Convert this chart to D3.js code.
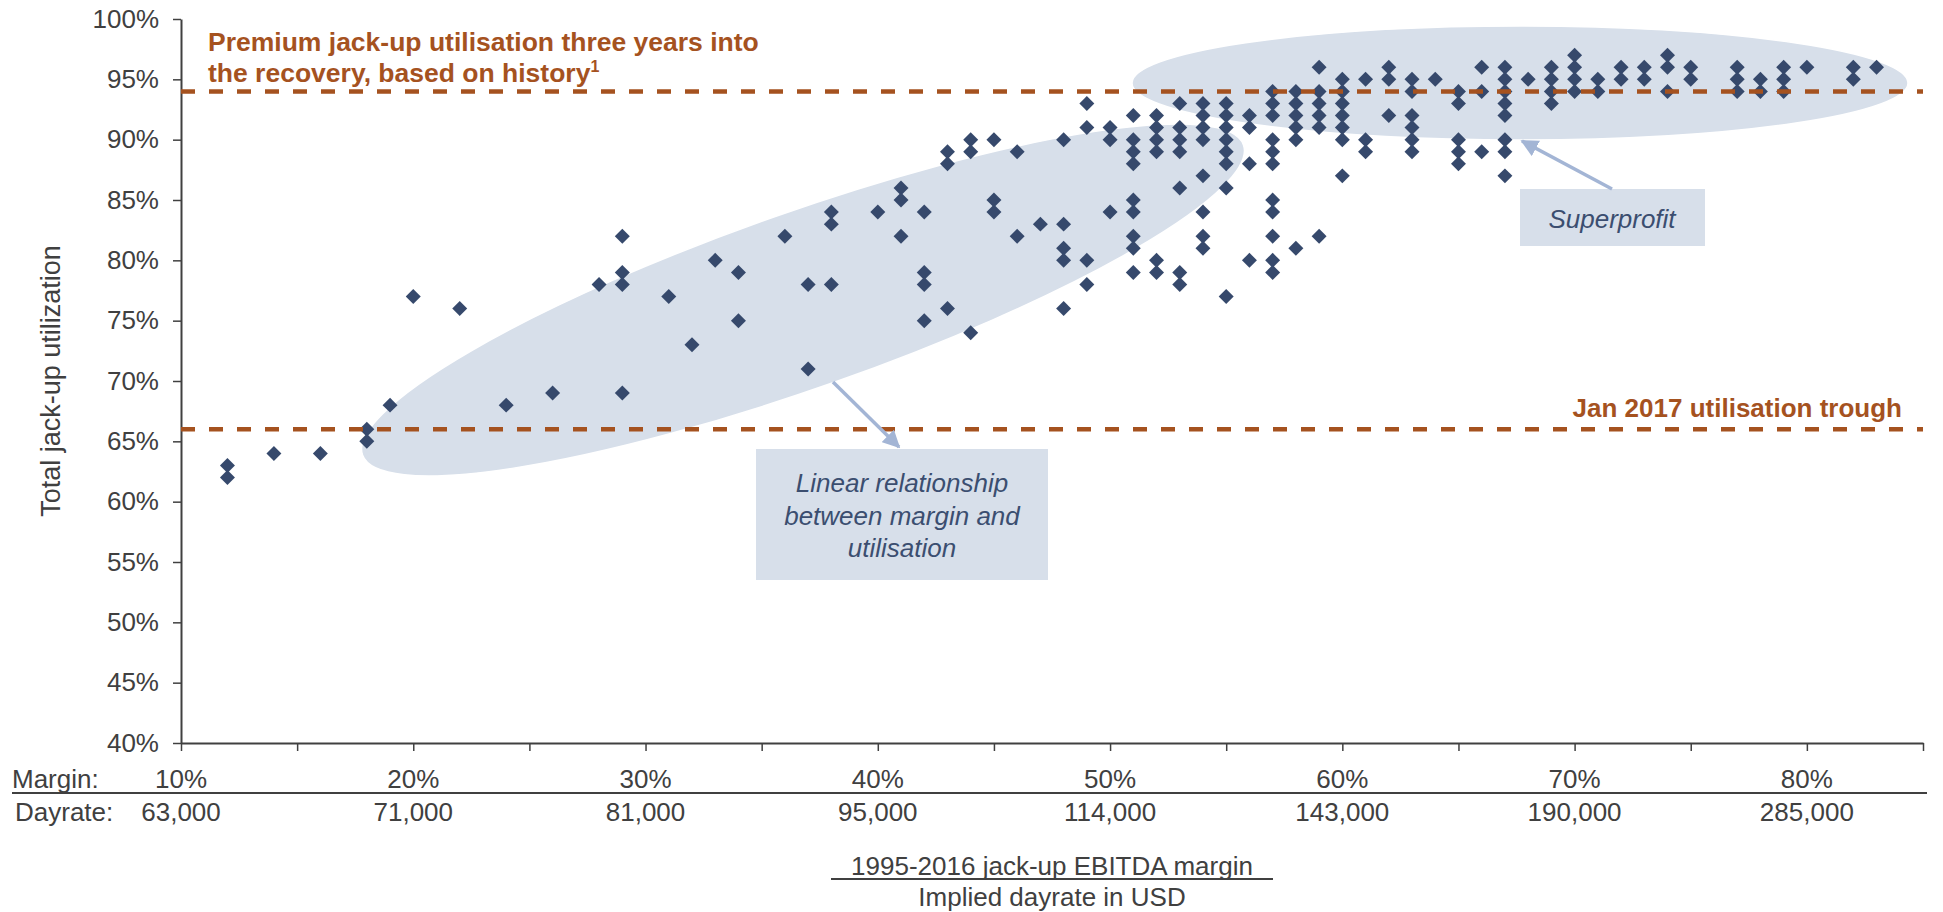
<!DOCTYPE html>
<html>
<head>
<meta charset="utf-8">
<script src="https://cdn.jsdelivr.net/npm/d3@7"></script>
<style>
  html, body { margin: 0; padding: 0; background: #ffffff; }
  svg { display: block; font-family: "Liberation Sans", Arial, sans-serif; }
</style>
</head>
<body>
<svg id="chart" width="1943" height="912"></svg>
<script>
// ---------------- DATA ----------------
// EBITDA margin (%) of each column of observations
const marginValues = [12,14,16,18,19,20,22,24,26,28,29,31,32,33,34,36,37,38,40,41,42,43,44,45,46,47,48,49,50,51,52,53,54,55,56,57,58,59,60,61,62,63,64,65,66,67,68,69,70,71,72,73,74,75,77,78,79,80,82,83];
// Total jack-up utilization (%) observed at each margin
const utilizationValues = [
  [63,62],[64],[64],[66,65],[68],[77],[76],[68],[69],[78],
  [82,79,78,69],[77],[73],[80],[79,75],[82],[78,71],[84,83,78],[84],[86,85,82],
  [84,79,78,75],[89,88,76],[90,89,74],[90,85,84],[89,82],[83],[90,83,81,80,76],[93,91,80,78],[91,90,84],[92,90,89,88,85,84,82,81,79],
  [92,91,90,89,80,79],[93,91,90,89,86,79,78],[93,92,91,90,87,84,82,81],[93,92,91,90,89,88,86,77],[92,91,88,80],[94,93,92,90,89,88,85,84,82,80,79],[94,93,92,91,90,81],[96,94,93,92,91,82],[95,94,93,92,91,90,87],[95,90,89],
  [96,95,92],[95,94,92,91,90,89],[95],[94,93,90,89,88],[96,94,89],[96,95,94,93,92,90,89,87],[95],[96,95,94,93],[97,96,95,94],[95,94],
  [96,95],[96,95],[97,96,94],[96,95],[96,95,94],[95,94],[96,95,94],[96],[96,95],[96]
];
// Axis ticks and labels
const yTickValues = [40,45,50,55,60,65,70,75,80,85,90,95,100];
const xTickValues = [10,15,20,25,30,35,40,45,50,55,60,65,70,75,80,85];
const labelMargins = [10,20,30,40,50,60,70,80];
const marginLabels = ["10%","20%","30%","40%","50%","60%","70%","80%"];
const dayrateLabels = ["63,000","71,000","81,000","95,000","114,000","143,000","190,000","285,000"];
// Reference lines (utilization %)
const premiumLevel = 94;
const troughLevel = 66;

// ---------------- SETUP ----------------
const svg = d3.select("#chart");
const x = d3.scaleLinear().domain([10, 85]).range([181, 1923]);
const y = d3.scaleLinear().domain([40, 100]).range([743, 19]);

const axisColor = "#404040";
const orange = "#A5521F";
const shade = "#D7DFEA";
const markColor = "#36496C";
const noteText = "#3B4E70";
const arrowColor = "#A3B5D5";

const points = [];
marginValues.forEach((m, i) => utilizationValues[i].forEach(u => points.push({m, u})));

// ---------------- SHADED ELLIPSES ----------------
const gShade = svg.append("g");
gShade.append("ellipse")
  .attr("cx", 803).attr("cy", 300).attr("rx", 467).attr("ry", 88)
  .attr("transform", "rotate(-19.4 803 300)")
  .attr("fill", shade).attr("stroke", "#ffffff").attr("stroke-width", 1.5);
gShade.append("ellipse")
  .attr("cx", 1520).attr("cy", 83).attr("rx", 388).attr("ry", 57)
  .attr("fill", shade).attr("stroke", "#ffffff").attr("stroke-width", 1.5);

// ---------------- AXES ----------------
const yAxis = svg.append("g")
  .attr("transform", `translate(${x(10)},0)`)
  .call(d3.axisLeft(y).tickValues(yTickValues).tickFormat(d => d + "%").tickSize(8).tickSizeOuter(0).tickPadding(14));
yAxis.select(".domain").attr("stroke", axisColor).attr("stroke-width", 2);
yAxis.selectAll(".tick line").attr("stroke", axisColor).attr("stroke-width", 1.5);
yAxis.selectAll(".tick text")
  .attr("fill", axisColor).attr("font-size", 26)
  .attr("font-family", "'Liberation Sans', Arial, sans-serif");

const xAxis = svg.append("g")
  .attr("transform", `translate(0,${y(40)})`)
  .call(d3.axisBottom(x).tickValues(xTickValues).tickFormat("").tickSize(8).tickSizeOuter(0));
xAxis.select(".domain").attr("stroke", axisColor).attr("stroke-width", 2);
xAxis.selectAll(".tick line").attr("stroke", axisColor).attr("stroke-width", 1.5);

// Margin / dayrate label rows
const labelFont = 26;
svg.append("text").attr("x", 12).attr("y", 788)
  .attr("font-size", labelFont).attr("fill", axisColor).text("Margin:");
svg.append("text").attr("x", 15).attr("y", 821)
  .attr("font-size", labelFont).attr("fill", axisColor).text("Dayrate:");
svg.append("line").attr("x1", 12).attr("x2", 1927).attr("y1", 793).attr("y2", 793)
  .attr("stroke", axisColor).attr("stroke-width", 2);

svg.append("g").selectAll("text").data(labelMargins).join("text")
  .attr("x", d => x(d)).attr("y", 788).attr("text-anchor", "middle")
  .attr("font-size", labelFont).attr("fill", axisColor)
  .text((d, i) => marginLabels[i]);
svg.append("g").selectAll("text").data(labelMargins).join("text")
  .attr("x", d => x(d)).attr("y", 821).attr("text-anchor", "middle")
  .attr("font-size", labelFont).attr("fill", axisColor)
  .text((d, i) => dayrateLabels[i]);

// X axis title
const xMid = (x(10) + x(85)) / 2;
svg.append("text").attr("x", xMid).attr("y", 875).attr("text-anchor", "middle")
  .attr("font-size", labelFont).attr("fill", axisColor).text("1995-2016 jack-up EBITDA margin");
svg.append("line").attr("x1", xMid - 221).attr("x2", xMid + 221).attr("y1", 879).attr("y2", 879)
  .attr("stroke", axisColor).attr("stroke-width", 2);
svg.append("text").attr("x", xMid).attr("y", 906).attr("text-anchor", "middle")
  .attr("font-size", labelFont).attr("fill", axisColor).text("Implied dayrate in USD");

// Y axis title
const yMid = (y(40) + y(100)) / 2;
svg.append("text")
  .attr("transform", `translate(51,${yMid}) rotate(-90)`)
  .attr("text-anchor", "middle").attr("dy", "0.35em")
  .attr("font-size", 27).attr("fill", axisColor)
  .text("Total jack-up utilization");

// ---------------- SCATTER POINTS ----------------
const diamond = d3.symbol().type(d3.symbolSquare).size(112);
svg.append("g").selectAll("path").data(points).join("path")
  .attr("d", diamond)
  .attr("transform", d => `translate(${x(d.m)},${y(d.u)}) rotate(45)`)
  .attr("fill", markColor);

// ---------------- REFERENCE LINES ----------------
[premiumLevel, troughLevel].forEach(v => {
  svg.append("line")
    .attr("x1", x(10)).attr("x2", x(85))
    .attr("y1", y(v)).attr("y2", y(v))
    .attr("stroke", orange).attr("stroke-width", 4.5)
    .attr("stroke-dasharray", "14 14");
});

// Reference line labels
const t1 = svg.append("text").attr("font-size", 26.5).attr("font-weight", "bold").attr("fill", orange);
t1.append("tspan").attr("x", 208).attr("y", 51).text("Premium jack-up utilisation three years into");
t1.append("tspan").attr("x", 208).attr("y", 82).text("the recovery, based on history");
t1.append("tspan").attr("font-size", 16).attr("dy", -10).text("1");

svg.append("text").attr("x", 1902).attr("y", 417).attr("text-anchor", "end")
  .attr("font-size", 26).attr("font-weight", "bold").attr("fill", orange)
  .text("Jan 2017 utilisation trough");

// ---------------- ANNOTATIONS ----------------
const defs = svg.append("defs");
defs.append("marker").attr("id", "arrowHead")
  .attr("viewBox", "0 0 10 10").attr("refX", 9).attr("refY", 5)
  .attr("markerWidth", 5).attr("markerHeight", 5).attr("orient", "auto")
  .attr("markerUnits", "strokeWidth")
  .append("path").attr("d", "M0,0 L10,5 L0,10 Z").attr("fill", arrowColor);

// Linear relationship box
svg.append("rect").attr("x", 756).attr("y", 449).attr("width", 292).attr("height", 131).attr("fill", shade);
const nt = svg.append("text").attr("text-anchor", "middle").attr("font-size", 26)
  .attr("font-style", "italic").attr("fill", noteText);
["Linear relationship", "between margin and", "utilisation"].forEach((s, i) => {
  nt.append("tspan").attr("x", 902).attr("y", 492 + i * 32.5).text(s);
});
svg.append("line").attr("x1", 833).attr("y1", 382).attr("x2", 899).attr("y2", 447)
  .attr("stroke", arrowColor).attr("stroke-width", 3.5).attr("marker-end", "url(#arrowHead)");

// Superprofit box
svg.append("rect").attr("x", 1520).attr("y", 189).attr("width", 185).attr("height", 57).attr("fill", shade);
svg.append("text").attr("x", 1612).attr("y", 228).attr("text-anchor", "middle")
  .attr("font-size", 26).attr("font-style", "italic").attr("fill", noteText).text("Superprofit");
svg.append("line").attr("x1", 1612).attr("y1", 189).attr("x2", 1522).attr("y2", 141)
  .attr("stroke", arrowColor).attr("stroke-width", 3.5).attr("marker-end", "url(#arrowHead)");
</script>
</body>
</html>
